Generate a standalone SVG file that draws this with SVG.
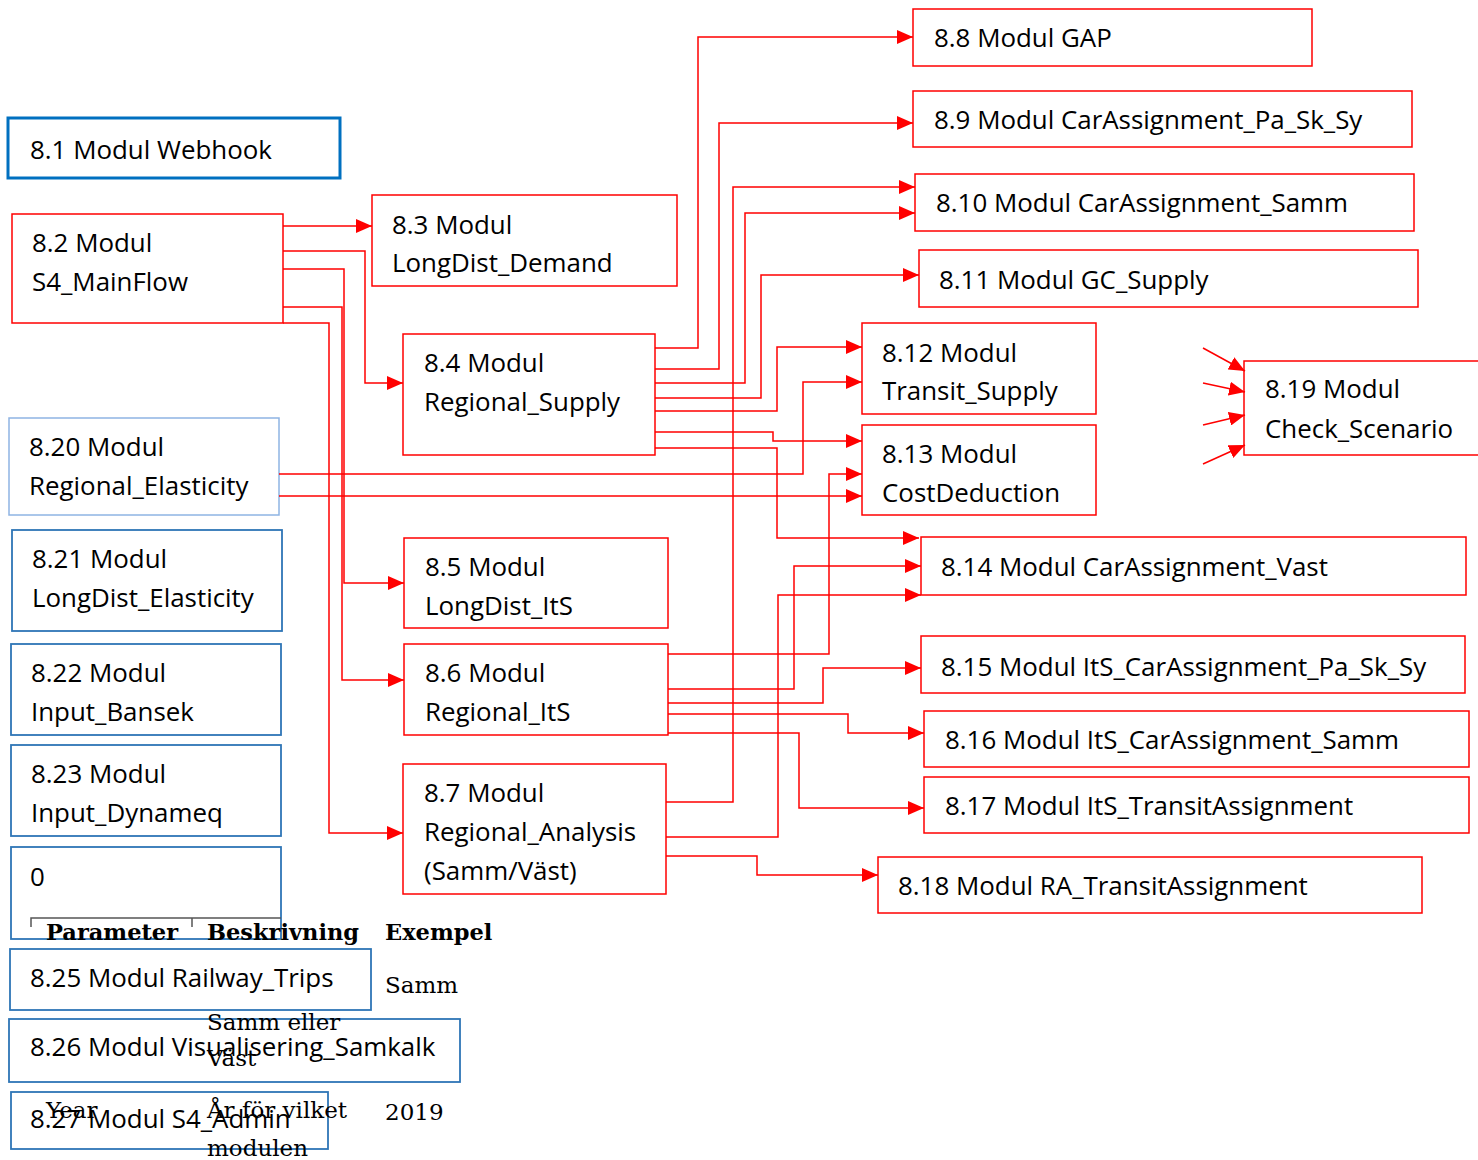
<svg xmlns="http://www.w3.org/2000/svg" width="1478" height="1160" viewBox="0 0 1478 1160">
<style>
.n{font-family:"Open Sans","Liberation Sans",sans-serif;font-size:25.9px;fill:#000}
.r{fill:#fff;stroke:#FF0000;stroke-width:1.5}
.b{fill:#fff;stroke:#2E75B6;stroke-width:1.8}
.lb{fill:#fff;stroke:#8EB4E3;stroke-width:1.5}
.c{fill:none;stroke:#FF0000;stroke-width:1.5}
.th{font-family:"DejaVu Serif","Liberation Serif",serif;font-size:22.5px;font-weight:bold;fill:#000}
.td{font-family:"DejaVu Serif","Liberation Serif",serif;font-size:23px;fill:#000}
</style>
<defs>
<marker id="a" markerUnits="userSpaceOnUse" markerWidth="16" markerHeight="14" refX="16" refY="7" orient="auto">
<path d="M0,0 L16,7 L0,14 z" fill="#FF0000"/>
</marker>
</defs>
<rect width="1478" height="1160" fill="#fff"/>
<g id="n81"><rect x="8" y="118" width="332" height="60" fill="#fff" stroke="#0070C0" stroke-width="3"/><text class="n" x="30" y="159">8.1 Modul Webhook</text></g>
<g id="n82"><rect class="r" x="12" y="214" width="271" height="109"/><text class="n" x="32" y="252">8.2 Modul</text><text class="n" x="32" y="291">S4_MainFlow</text></g>
<g id="n83"><rect class="r" x="372" y="195" width="305" height="91"/><text class="n" x="392" y="234">8.3 Modul</text><text class="n" x="392" y="272">LongDist_Demand</text></g>
<g id="n84"><rect class="r" x="403" y="334" width="252" height="121"/><text class="n" x="424" y="372">8.4 Modul</text><text class="n" x="424" y="411">Regional_Supply</text></g>
<g id="n85"><rect class="r" x="404" y="538" width="264" height="90"/><text class="n" x="425" y="576">8.5 Modul</text><text class="n" x="425" y="615">LongDist_ItS</text></g>
<g id="n86"><rect class="r" x="404" y="644" width="264" height="91"/><text class="n" x="425" y="682">8.6 Modul</text><text class="n" x="425" y="721">Regional_ItS</text></g>
<g id="n87"><rect class="r" x="403" y="764" width="263" height="130"/><text class="n" x="424" y="802">8.7 Modul</text><text class="n" x="424" y="841">Regional_Analysis</text><text class="n" x="424" y="880">(Samm/Väst)</text></g>
<g id="n88"><rect class="r" x="913" y="9" width="399" height="57"/><text class="n" x="934" y="47">8.8 Modul GAP</text></g>
<g id="n89"><rect class="r" x="913" y="91" width="499" height="56"/><text class="n" x="934" y="129">8.9 Modul CarAssignment_Pa_Sk_Sy</text></g>
<g id="n810"><rect class="r" x="915" y="174" width="499" height="57"/><text class="n" x="936" y="212">8.10 Modul CarAssignment_Samm</text></g>
<g id="n811"><rect class="r" x="919" y="250" width="499" height="57"/><text class="n" x="939" y="289">8.11 Modul GC_Supply</text></g>
<g id="n812"><rect class="r" x="862" y="323" width="234" height="91"/><text class="n" x="882" y="362">8.12 Modul</text><text class="n" x="882" y="400">Transit_Supply</text></g>
<g id="n813"><rect class="r" x="862" y="425" width="234" height="90"/><text class="n" x="882" y="463">8.13 Modul</text><text class="n" x="882" y="502">CostDeduction</text></g>
<g id="n814"><rect class="r" x="921" y="537" width="545" height="58"/><text class="n" x="941" y="576">8.14 Modul CarAssignment_Vast</text></g>
<g id="n815"><rect class="r" x="921" y="636" width="544" height="57"/><text class="n" x="941" y="676">8.15 Modul ItS_CarAssignment_Pa_Sk_Sy</text></g>
<g id="n816"><rect class="r" x="924" y="711" width="545" height="56"/><text class="n" x="945" y="749">8.16 Modul ItS_CarAssignment_Samm</text></g>
<g id="n817"><rect class="r" x="924" y="777" width="545" height="56"/><text class="n" x="945" y="815">8.17 Modul ItS_TransitAssignment</text></g>
<g id="n818"><rect class="r" x="878" y="857" width="544" height="56"/><text class="n" x="898" y="895">8.18 Modul RA_TransitAssignment</text></g>
<g id="n819"><path class="r" d="M1480,361 H1244 V455 H1480"/><text class="n" x="1265" y="398">8.19 Modul</text><text class="n" x="1265" y="438">Check_Scenario</text></g>
<g id="n820"><rect class="lb" x="9" y="418" width="270" height="97"/><text class="n" x="29" y="456">8.20 Modul</text><text class="n" x="29" y="495">Regional_Elasticity</text></g>
<g id="n821"><rect class="b" x="12" y="530" width="270" height="101"/><text class="n" x="32" y="568">8.21 Modul</text><text class="n" x="32" y="607">LongDist_Elasticity</text></g>
<g id="n822"><rect class="b" x="11" y="644" width="270" height="91"/><text class="n" x="31" y="682">8.22 Modul</text><text class="n" x="31" y="721">Input_Bansek</text></g>
<g id="n823"><rect class="b" x="11" y="745" width="270" height="91"/><text class="n" x="31" y="783">8.23 Modul</text><text class="n" x="31" y="822">Input_Dynameq</text></g>
<g id="n0"><rect class="b" x="11" y="847" width="270" height="92"/><text class="n" x="30" y="886">0</text></g>
<g id="n825"><rect class="b" x="10" y="949" width="361" height="61"/><text class="n" x="30" y="987">8.25 Modul Railway_Trips</text></g>
<g id="n826"><rect class="b" x="9" y="1019" width="451" height="63"/><text class="n" x="30" y="1056">8.26 Modul Visualisering_Samkalk</text></g>
<g id="n827"><rect class="b" x="11" y="1092" width="317" height="57"/><text class="n" x="30" y="1128">8.27 Modul S4_Admin</text></g>
<g id="table">
<path d="M31,927 V918 H281 M192,918 V927" fill="none" stroke="#555" stroke-width="1.5"/>
<text class="th" x="46" y="940">Parameter</text>
<text class="th" x="207" y="940">Beskrivning</text>
<text class="th" x="385" y="940">Exempel</text>
<text class="td" x="385" y="993">Samm</text>
<text class="td" x="207" y="1030">Samm eller</text>
<text class="td" x="207" y="1066">Väst</text>
<text class="td" x="46" y="1118">Year</text>
<text class="td" x="207" y="1118">År för vilket</text>
<text class="td" x="207" y="1156">modulen</text>
<text class="td" x="385" y="1120">2019</text>
</g>
<g id="connectors" class="c" marker-end="url(#a)">
<path class="c" marker-end="url(#a)" d="M283,226 H372"/>
<path class="c" marker-end="url(#a)" d="M283,251 H365 V383 H403"/>
<path class="c" marker-end="url(#a)" d="M283,269 H344 V583 H404"/>
<path class="c" marker-end="url(#a)" d="M283,307 H342 V680 H404"/>
<path class="c" marker-end="url(#a)" d="M283,323 H329 V833 H403"/>
<path class="c" marker-end="url(#a)" d="M655,348 H698 V37 H913"/>
<path class="c" marker-end="url(#a)" d="M655,369 H719 V123 H913"/>
<path class="c" marker-end="url(#a)" d="M655,383 H745 V213 H915"/>
<path class="c" marker-end="url(#a)" d="M655,398 H761 V275 H919"/>
<path class="c" marker-end="url(#a)" d="M655,411 H777 V347 H862"/>
<path class="c" marker-end="url(#a)" d="M655,432 H773 V441 H862"/>
<path class="c" marker-end="url(#a)" d="M655,448 H777 V538 H919"/>
<path class="c" marker-end="url(#a)" d="M666,802 H733 V187 H915"/>
<path class="c" marker-end="url(#a)" d="M279,474 H803 V382 H862"/>
<path class="c" marker-end="url(#a)" d="M279,496 H862"/>
<path class="c" marker-end="url(#a)" d="M668,654 H829 V474 H862"/>
<path class="c" marker-end="url(#a)" d="M668,689 H794 V566 H921"/>
<path class="c" marker-end="url(#a)" d="M666,837 H778 V595 H921"/>
<path class="c" marker-end="url(#a)" d="M668,703 H823 V668 H921"/>
<path class="c" marker-end="url(#a)" d="M668,714 H848 V733 H924"/>
<path class="c" marker-end="url(#a)" d="M668,733 H799 V808 H924"/>
<path class="c" marker-end="url(#a)" d="M666,856 H757 V875 H878"/>
<path class="c" marker-end="url(#a)" d="M1203,348 L1245,371"/>
<path class="c" marker-end="url(#a)" d="M1203,383 L1245,392"/>
<path class="c" marker-end="url(#a)" d="M1203,425 L1245,415"/>
<path class="c" marker-end="url(#a)" d="M1203,464 L1245,445"/>
</g>
</svg>
